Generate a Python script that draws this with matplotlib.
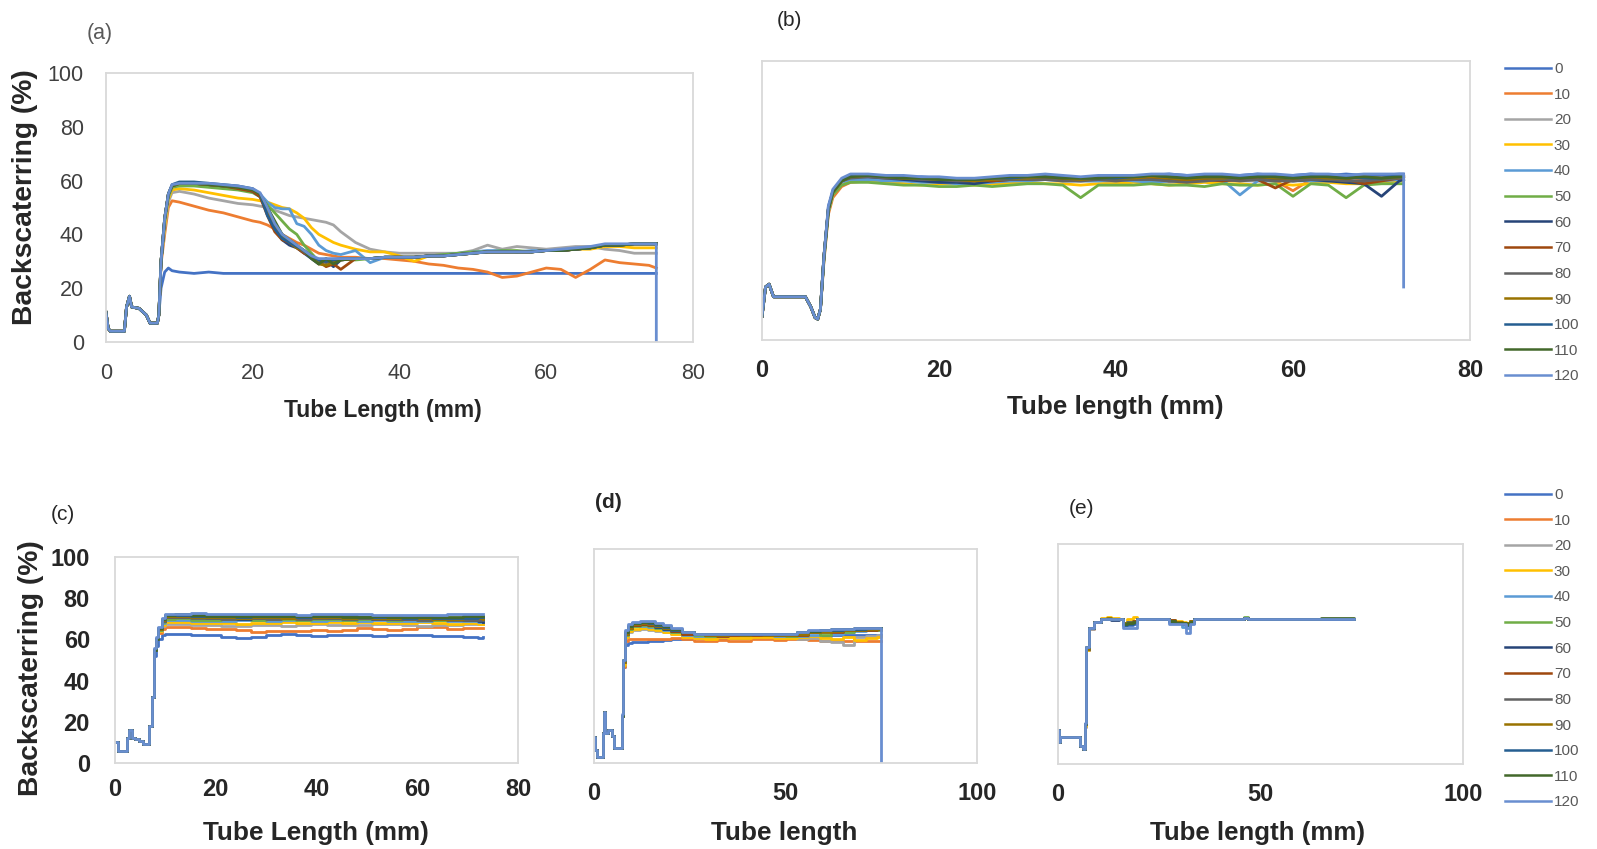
import matplotlib
matplotlib.use("Agg")
import matplotlib.pyplot as plt
from matplotlib.lines import Line2D

plt.rcParams['font.family'] = ['Liberation Sans', 'DejaVu Sans']
NARROW = ['Liberation Sans Narrow', 'Liberation Sans', 'DejaVu Sans']

labels = ['0', '10', '20', '30', '40', '50', '60', '70', '80', '90', '100', '110', '120']
colors = ['#4472C4', '#ED7D31', '#A5A5A5', '#FFC000', '#5B9BD5', '#70AD47', '#264478',
          '#9E480E', '#636363', '#997300', '#255E91', '#43682B', '#698ED0']

# ---------------- (a) ----------------
a_x0 = [0, 0.3, 0.6, 2.5, 2.8, 3.2, 3.5, 4.5, 5.5, 6.0, 7.0, 7.2]
a_y0 = [11, 5, 4, 4, 13, 17, 13, 12.5, 10, 7, 7, 10]
a_x = [7.5, 8, 8.5, 9, 10, 12, 14, 16, 18, 20, 21, 22, 23, 24, 25, 26, 27, 28, 29, 30,
       31, 32, 34, 36, 38, 40, 42, 44, 46, 48, 50, 52, 54, 56, 58, 60, 62, 64, 66, 68,
       70, 72, 74, 75, 75]
a_tail = [31.5, 31.5, 32, 32, 32.5, 33, 33.5, 33.5, 33.5, 33.5,
          34, 34, 34.5, 35, 36, 36, 36.5, 36.5, 36.5, 36.5]
a_y = [
    [20, 26, 27.5, 26.5, 26, 25.5, 26, 25.5, 25.5, 25.5,
     25.5, 25.5, 25.5, 25.5, 25.5, 25.5, 25.5, 25.5, 25.5, 25.5,
     25.5, 25.5, 25.5, 25.5, 25.5, 25.5, 25.5, 25.5, 25.5, 25.5,
     25.5, 25.5, 25.5, 25.5, 25.5, 25.5, 25.5, 25.5, 25.5, 25.5,
     25.5, 25.5, 25.5, 25.5, 25.5],
    [29, 40, 50, 52.5, 52, 50.5, 49, 48, 46.5, 45,
     44.5, 43.5, 42, 40, 38.5, 37, 36, 34.5, 33, 32.5,
     32, 31.5, 31.5, 31, 31, 30.5, 30, 29, 28.5, 27.5,
     27, 26, 24, 24.5, 26, 27.5, 27, 24, 27, 30.5,
     29.5, 29, 28.5, 27.5, 27.5],
    [30, 42, 52, 55.5, 56, 55, 53.5, 52.5, 51.5, 51,
     50.5, 50, 49, 48, 47, 46.5, 46, 45.5, 45, 44.5,
     43.5, 41, 37, 34.5, 33.5, 33, 33, 33, 33, 33,
     34, 36, 34.5, 35.5, 35, 34.5, 35, 35.5, 35.5, 34.5,
     34, 33, 33, 33, 33],
    [30, 43, 53, 56.5, 57, 56.5, 55.5, 54.5, 53.5, 53,
     52.5, 52, 51, 50, 49.5, 48, 46, 42.5, 40, 38.5,
     37, 36, 34.5, 33.5, 33.5, 32, 30, 32, 32.5, 32.5,
     33, 33.5, 33.5, 33.5, 33.5, 34, 34, 34.5, 34.5, 35.5,
     35.5, 35, 35, 35, 35],
    [30, 45, 54, 57.5, 58.5, 58.5, 58, 57.5, 57, 56,
     55, 52, 50, 49.5, 49.5, 44, 43, 40, 36, 34,
     33, 32.5, 34, 29.5, 31.5, 31.5, 31.5, 32, 32.5, 33,
     33.5, 34, 34, 33.5, 34, 34, 34, 34.5, 35, 36,
     36, 36.5, 36.5, 36.5, 36.5],
    [30, 45, 54, 57.5, 58, 58, 57.5, 57, 56.5, 55.5,
     54, 51, 48, 45, 42, 40, 36, 33, 30, 31,
     28.5, 31, 30.5, 31, 31.5, 31.5, 31.5, 32, 32.5, 33,
     33.5, 33.5, 34, 34, 33.5, 34, 34, 34.5, 35, 36,
     36, 36.5, 36.5, 36.5, 36.5],
    [30, 46, 55, 58, 59, 59, 58.5, 58, 57.5, 56,
     54, 48, 42, 38, 36, 35, 33, 31, 29, 30.5,
     28, 30.5, 31, 31, 31.5] + a_tail,
    [30, 46, 55, 58, 59, 59, 58.5, 58, 57, 56,
     54, 47, 41, 38, 37, 35, 33, 32, 30, 28,
     29, 27, 31, 31, 31.5] + a_tail,
    [30, 46, 55, 58, 59, 59, 58.5, 58, 57.5, 56.5,
     55, 50, 44, 40, 37, 35.5, 33.5, 31.5, 30, 29.5,
     30, 30.5, 31, 31, 31.5] + a_tail,
    [30, 46, 55, 58, 59, 59, 58.5, 58, 57.5, 56.5,
     55, 49, 43, 39, 37, 35, 34, 32, 29, 28.5,
     29.5, 30.5, 31, 31, 31.5] + a_tail,
    [30, 46, 55, 58.5, 59.5, 59.5, 59, 58.5, 58, 57,
     55, 47, 42, 38.5, 37, 35.5, 34, 32, 30.5, 30,
     30.5, 31, 31, 31, 31.5] + a_tail,
    [30, 46, 55, 58, 59, 59, 58.5, 58, 57.5, 56.5,
     55, 50, 45, 40, 38, 36, 34, 31, 29, 31,
     29, 30.5, 31, 31, 31.5] + a_tail,
    [30, 46, 55, 58.5, 59, 59, 59, 58.5, 58, 57,
     55.5, 50, 44, 40, 38, 36, 34, 32, 31, 31,
     31, 31, 31, 31, 31.5,
     31.5, 31.5, 32, 32, 32.5, 33, 33.5, 33.5, 33.5, 33.5,
     34, 34.5, 35, 35.5, 36.5, 36.5, 36.5, 36.5, 36.5, 0],
]

# ---------------- (b) ----------------
b_x0 = [0, 0.4, 0.8, 1.3, 4.9, 5.5, 6.0, 6.3, 6.6]
b_y0 = [8.5, 19, 20, 15.5, 15.5, 12, 8, 7.5, 11]
b_x = [7, 7.5, 8, 9, 10, 12, 14, 16, 18, 20, 22, 24, 26, 28, 30, 32, 34, 36, 38, 40,
       42, 44, 46, 48, 50, 52, 54, 56, 58, 60, 62, 64, 66, 68, 70, 72, 72.5, 72.5]
b_y = [
    [30, 48, 53, 57, 58.5, 59, 58.5, 58, 58.5, 58, 57.5, 57, 57.5, 58, 58.5, 59, 58.5, 58, 58.5,
     58, 58.5, 59, 59.5, 59, 59, 58.5, 59, 59.5, 59, 59, 59.5, 59, 59.5, 59, 59, 59.5, 59.5, 59.5],
    [28, 45, 51, 55, 56.5, 57, 57, 57, 57.5, 57, 57, 56.5, 57, 57, 57.5, 58, 57.5, 57, 57.5,
     57, 57.5, 58, 58, 57.5, 57.5, 57, 57.5, 58, 57, 53.5, 57.5, 57.5, 57, 57.5, 58, 58.5, 58.5, 58.5],
    [29, 46, 52, 56, 57.5, 58, 58, 57.5, 57.5, 57, 56.5, 56.5, 57, 56.5, 57, 57.5, 57.5, 57, 57,
     56.5, 57, 57.5, 56.5, 57, 57.5, 57.5, 57, 57, 57.5, 57, 57, 57.5, 57, 56.5, 57, 57.5, 57.5, 57.5],
    [29, 46, 52, 56, 57, 57, 56.5, 56, 55.5, 56, 56, 55.5, 56, 56, 56.5, 56, 56, 55.5, 56,
     56, 56.5, 56, 55.5, 56, 56.5, 56, 56, 55.5, 56, 55.5, 56, 56.5, 56, 56, 56.5, 57, 57, 57],
    [29, 46, 53, 56.5, 57.5, 57.5, 57, 57, 56.5, 56.5, 56, 56, 56.5, 57, 57, 57.5, 57, 57, 57,
     57.5, 57, 56.5, 57, 57, 57, 57.5, 52, 57, 57, 57.5, 57, 57, 57.5, 56.5, 57, 57.5, 57.5, 57.5],
    [29, 46, 52, 55.5, 56.5, 56.5, 56, 55.5, 55.5, 55, 55, 55.5, 55, 55.5, 56, 56, 55.5, 51, 55.5,
     55.5, 55.5, 56, 55.5, 55.5, 55, 56, 55.5, 55.5, 56, 51.5, 56, 55.5, 51, 55.5, 56, 56, 56, 56],
    [30, 47, 53, 57, 58.5, 58.5, 58, 57.5, 57, 56.5, 56.5, 56, 57, 57.5, 58, 58, 57.5, 57.5, 58,
     57.5, 58, 58, 57.5, 57, 57.5, 58, 57.5, 58, 57.5, 57, 57.5, 57, 56.5, 56, 51.5, 57, 57.5, 57.5],
    [30, 47, 53, 57, 58.5, 59, 58.5, 58, 58, 57.5, 57.5, 57.5, 57, 57.5, 57.5, 58, 57.5, 57.5, 58,
     57.5, 57.5, 58, 57, 57.5, 57.5, 57, 57.5, 57.5, 54.5, 57.5, 58, 57.5, 57.5, 56, 57, 58, 58.5, 58.5],
    [30, 47, 53, 57, 58, 58.5, 58, 58, 57.5, 57.5, 57, 57, 57.5, 57.5, 57.5, 57.5, 57, 57, 57.5,
     57, 57.5, 57.5, 57, 56.5, 57, 57.5, 57, 57.5, 57, 57, 57.5, 57.5, 57, 57, 57.5, 58, 58, 58],
    [30, 47, 53, 57, 58.5, 59, 58.5, 58, 58, 57.5, 57.5, 57, 57.5, 58, 58, 58.5, 58, 57.5, 58,
     58, 58, 58.5, 58, 57.5, 58, 58, 58.5, 58.5, 58, 58, 58.5, 58, 58, 58.5, 58, 58.5, 59, 59],
    [30, 47, 53.5, 57.5, 59, 59, 58.5, 58.5, 58, 58, 57.5, 57.5, 58, 58, 58.5, 58.5, 58.5, 58, 58,
     58, 58.5, 59, 58.5, 58.5, 58.5, 58.5, 58.5, 59, 58.5, 58.5, 59, 58.5, 58.5, 58, 58, 59, 59, 59],
    [30, 47, 53, 57, 58.5, 59, 58.5, 58, 58, 57.5, 57.5, 57.5, 58, 58.5, 58.5, 58.5, 58, 58, 58,
     58.5, 58.5, 59, 58.5, 58, 58.5, 58.5, 58, 58.5, 58.5, 58, 58.5, 58.5, 58, 58.5, 58, 58.5, 58.5, 58.5],
    [30, 48, 54, 58, 59.5, 59.5, 59, 59, 58.5, 58.5, 58, 58, 58.5, 59, 59, 59.5, 59, 58.5, 59,
     59, 59, 59.5, 59.5, 59, 59.5, 59.5, 59, 59.5, 59.5, 59, 59.5, 59.5, 59, 59.5, 59.5, 59.5, 59.5, 19],
]

# ---------------- (c) ----------------
c_x0 = [0, 0.6, 2.0, 2.3, 2.8, 3.3, 4.0, 4.8, 5.6, 6.3]
c_y0 = [10, 6, 6, 12, 16, 12, 11.5, 10.5, 9, 9]
c_x = [6.8, 7.3, 7.7, 8.1, 8.6, 9.3, 10, 12, 15, 18, 21, 24, 27, 30, 33, 36, 39, 42, 45, 48,
       51, 54, 57, 60, 63, 66, 69, 72, 73]
c_y = [
    [18, 32, 52, 57, 60, 62, 62.5, 62.5, 62, 62, 61, 60.5, 61, 62, 62.5, 62, 61.5, 62, 62, 62,
     61.5, 62, 62, 62, 61.5, 61.5, 61, 60.5, 61],
    [18, 32, 55, 60, 63, 65, 66, 66, 65.5, 65, 65, 64.5, 63.5, 64, 64, 64, 64.5, 64, 64.5, 65.5,
     65, 64.5, 65, 66, 66, 65, 65.5, 65.5, 65.5],
    [18, 32, 55, 60, 64, 66.5, 67.5, 67.5, 67, 67, 66.5, 66.5, 67, 67, 66.5, 67, 67.5, 67, 67, 67,
     67.5, 67.5, 67, 66.5, 67, 67, 67.5, 67.5, 67.5],
    [18, 32, 55, 60, 64, 67, 68.5, 68.5, 68, 68, 68, 67.5, 68, 68, 68.5, 68, 68, 68.5, 68, 68.5,
     68, 68, 68, 68.5, 68, 67.5, 68, 67.5, 67.5],
    [18, 32, 55, 60, 64.5, 68, 69.5, 69.5, 69, 69, 69, 69.5, 69.5, 69, 69.5, 69.5, 69, 69.5, 69.5, 69,
     69.5, 69, 69, 69, 69.5, 69, 69, 68.5, 69],
    [18, 32, 55, 60, 64.5, 68.5, 70, 70.5, 69.5, 69.5, 70, 70, 69.5, 70, 70, 69.5, 70, 70, 69.5, 70,
     70, 69.5, 70, 69.5, 69.5, 70, 70, 70.5, 70],
    [18, 32, 55, 60, 65, 69, 71, 71, 71, 70.5, 70.5, 70, 70.5, 70.5, 70.5, 71, 71, 70.5, 70.5, 70.5,
     70, 70, 70.5, 70.5, 70, 70, 69.5, 69, 68.5],
    [18, 32, 55, 60, 65, 69, 71, 71, 71.5, 71, 71, 71, 70.5, 71, 71, 70.5, 70.5, 71, 71, 70.5,
     71, 70.5, 70, 70.5, 70, 70.5, 70, 70, 70],
    [18, 32, 55, 60, 65, 69, 71, 71, 70.5, 70.5, 70, 70.5, 70.5, 70, 70.5, 70, 70.5, 70.5, 70, 70.5,
     70, 70, 70, 69.5, 70, 69.5, 69.5, 69.5, 69.5],
    [18, 32, 55, 60, 65, 69.5, 71.5, 71.5, 71, 71, 71, 70.5, 71, 71, 70.5, 71, 71, 71, 70.5, 71,
     70.5, 70.5, 70.5, 70.5, 70, 70, 70.5, 70.5, 70],
    [18, 32, 55, 60, 65.5, 70, 72, 72, 71.5, 71.5, 71.5, 71, 71.5, 71.5, 71.5, 71, 71.5, 71.5, 71.5, 71,
     71, 71, 70.5, 71, 70.5, 70.5, 70.5, 71, 71],
    [18, 32, 55, 60, 65.5, 70, 72, 72.5, 72, 71.5, 71.5, 71.5, 71.5, 71.5, 71.5, 71.5, 71.5, 71.5, 71, 71,
     71.5, 71, 71, 71, 71, 71, 71.5, 71.5, 71.5],
    [18, 32, 56, 61, 66, 70.5, 72.5, 72.5, 73, 72.5, 72.5, 72.5, 72.5, 72.5, 72.5, 72, 72.5, 72.5, 72.5, 72.5,
     72, 72, 72, 72, 72, 72.5, 72.5, 72.5, 72.5],
]

# ---------------- (d) ----------------
d_x0 = [0, 0.3, 0.7, 2.0, 2.4, 2.7, 3.0, 3.7, 4.6, 5.1, 6.8]
d_y0 = [12, 6, 3, 3, 14, 24, 14, 15.5, 12.5, 7, 7]
d_x = [7.2, 7.5, 8, 9, 10, 12, 14, 16, 18, 20, 23, 26, 29, 32, 35, 38, 41, 44, 47, 50,
       53, 56, 59, 62, 65, 68, 71, 74, 75, 75]
d_y = [
    [22, 45, 55, 56, 56.5, 56.5, 57, 57, 57.5, 58, 58, 58.5, 58.5, 58.5, 58.5,
     58.5, 59, 59, 59, 59, 59, 59.5, 59.5, 60, 60, 60, 60, 60, 60, 60],
    [22, 45, 57, 58, 58, 58, 58, 58, 58, 58.5, 58, 57, 57, 57.5, 57,
     57, 58, 58, 57.5, 58, 58, 57.5, 57, 57, 57, 57, 57, 57, 57, 57],
    [22, 46, 59, 61, 62, 62.5, 62, 61.5, 61, 60.5, 59.5, 58.5, 59, 59, 59.5,
     59, 59.5, 59.5, 59.5, 59, 58, 58.5, 57, 56.5, 55, 59, 59.5, 60, 60, 60],
    [22, 46, 59, 61.5, 62.5, 63, 62.5, 62, 61, 60.5, 59, 58.5, 58, 59, 58.5,
     58.5, 59, 59, 58.5, 58.5, 59, 59.5, 58.5, 58, 59, 57.5, 58.5, 59, 59.5, 59.5],
    [22, 47, 60, 62.5, 64, 64, 63.5, 63, 62, 61, 60, 59.5, 59.5, 59.5, 60,
     60, 60, 60, 59.5, 59.5, 59.5, 60, 61, 60.5, 61, 61.5, 62, 62, 62, 62],
    [22, 47, 60, 62.5, 64, 64.5, 64, 63, 62.5, 61, 60.5, 60, 59.5, 60.5, 60,
     60, 60, 60, 60, 59.5, 60, 61, 60, 61.5, 61, 62, 62, 62, 62, 62],
    [22, 47, 60.5, 63, 64.5, 65, 64.5, 63.5, 62.5, 61.5, 60.5, 60.5, 60, 60, 60.5,
     60, 60.5, 60.5, 60, 60, 60.5, 61, 61.5, 61.5, 62, 62, 62.5, 62.5, 62.5, 62.5],
    [22, 47, 60.5, 63, 64.5, 65, 64.5, 64, 63, 61.5, 60.5, 60.5, 60, 59.5, 60,
     60.5, 60, 60, 60.5, 60, 60, 61, 61.5, 61, 62, 62.5, 62, 62.5, 62.5, 62.5],
    [22, 47, 60.5, 63, 65, 65.5, 65, 64, 63, 62, 61, 60.5, 60.5, 60.5, 60.5,
     60.5, 60.5, 60.5, 60.5, 60.5, 60.5, 61.5, 61.5, 62, 62, 62.5, 62.5, 62.5, 62.5, 62.5],
    [22, 47, 60.5, 63, 65, 65.5, 65, 64, 63, 62, 61, 60.5, 60, 60, 60.5,
     60, 60.5, 60, 60, 60, 60.5, 61, 61, 61.5, 62, 62, 62.5, 62.5, 62.5, 62.5],
    [22, 48, 61, 64, 65.5, 66, 65.5, 64.5, 63.5, 62, 61, 60.5, 60.5, 60.5, 60.5,
     60.5, 60.5, 60.5, 60.5, 60.5, 61, 61.5, 62, 62, 62.5, 62.5, 63, 63, 63, 63],
    [22, 48, 61, 64, 65.5, 66, 66, 65, 64, 62.5, 61, 60.5, 60.5, 60.5, 60.5,
     60.5, 60.5, 60.5, 60.5, 60.5, 61, 61.5, 62, 62.5, 62.5, 63, 63, 63, 63, 63],
    [23, 48, 62, 65, 66, 66.5, 66.5, 65.5, 64.5, 63, 61, 60.5, 60.5, 60.5, 60.5,
     60.5, 60.5, 60.5, 60.5, 60.5, 61, 62, 62, 62.5, 62.5, 63, 63, 63, 63, 0],
]

# ---------------- (e) ----------------
e_x0 = [0, 0.25, 0.5, 1.0, 5.0, 5.4, 6.2]
e_y0 = [15.5, 10, 12.5, 12.5, 12.5, 8, 7]
e_x = [6.6, 7.0, 7.7, 9, 10.7, 12, 13, 15, 16, 17, 18.5, 19.5, 22, 25, 27.5, 29, 30.5, 31.5,
       32.5, 33.5, 36, 40, 46, 47, 55, 65, 73]
e_y = [
    [18, 52, 62, 64.5, 66, 66, 66, 66, 63, 63, 63.5, 66, 66, 66, 64.5, 64, 64, 63, 64.5, 66,
     66, 66, 66.3, 65.8, 65.8, 65.8, 65.8],
    [17, 52, 61.5, 64.5, 66, 66.5, 66, 66, 63.5, 64, 64, 66, 66, 66, 65, 64.5, 64, 63.5, 64.5, 66,
     66, 66, 66.3, 65.8, 65.8, 66, 65.8],
    [17, 52, 61.5, 64.5, 66, 66, 66, 66, 64, 64.5, 64, 66, 66, 66, 65, 64.5, 64, 64, 65, 66,
     66, 66, 66.5, 65.8, 65.8, 65.8, 65.8],
    [17.5, 52, 62, 64.5, 66.3, 66.8, 66.3, 66, 64, 66, 66.8, 66, 66, 66, 65.5, 65, 64.5, 64, 65, 66,
     66, 66, 66.3, 65.8, 65.8, 65.8, 65.8],
    [18, 52.5, 62, 64.5, 66, 66, 66, 66, 63.5, 64, 64, 66, 66, 66, 65, 64, 62.5, 62, 64, 66,
     66, 66, 66.3, 65.8, 65.8, 65.8, 65.8],
    [18, 52.5, 62, 64.5, 66, 66.3, 66, 66, 64, 64.5, 65, 66, 66, 66, 65.5, 64.5, 64, 63.5, 64.5, 66,
     66, 66, 66.8, 65.8, 65.8, 65.8, 66],
    [18, 52.5, 62, 64.5, 66, 66, 65.5, 66, 63.5, 64, 64.5, 66, 66, 66, 65, 64, 63.5, 63.5, 64.5, 66,
     66, 66, 66.3, 65.8, 65.8, 65.8, 65.8],
    [18, 52.5, 62, 64.5, 66, 66, 66, 66, 64, 64, 65, 66, 66, 66, 65.5, 64.5, 64, 64, 65, 66,
     66, 66, 66.3, 65.8, 65.8, 65.8, 65.8],
    [18, 52.5, 62, 64.5, 66, 66, 66, 66, 64, 64.5, 64.5, 66, 66, 66, 65, 64, 64, 63.5, 64.5, 66,
     66, 66, 66.3, 65.8, 65.8, 65.8, 65.8],
    [18, 52.5, 62, 64.5, 66, 66.5, 66, 66, 64, 64, 64.5, 66, 66, 66, 65, 64.5, 64, 64, 65, 66,
     66, 66, 66.3, 65.8, 65.8, 65.8, 65.8],
    [18, 53, 62, 64.5, 66, 66, 66, 66, 63, 63.5, 64, 66, 66, 66, 64.5, 64, 63.5, 63, 64, 66,
     66, 66, 66.3, 65.8, 65.8, 65.8, 65.8],
    [18, 53, 62, 64.5, 66, 66, 66, 66, 63.5, 64, 64.5, 66, 66, 66, 65, 64, 64, 63.5, 64.5, 66,
     66, 66, 66.3, 65.8, 65.8, 66.2, 66],
    [18.5, 53, 62, 64.5, 66, 66, 66, 66, 62, 62, 62, 66, 66, 66, 63.5, 63.5, 63.5, 59.5, 63.5, 66,
     66, 66, 66.3, 65.7, 65.7, 65.7, 65.7],
]

W, H = 1597, 849
fig = plt.figure(figsize=(W / 100, H / 100), dpi=100)


def rect(l, t, r, b):
    return [l / W, 1 - b / H, (r - l) / W, (b - t) / H]


def panel(box, x0, y0, xs, ys, xmax, xticks, steps, yticks, tick_kw):
    ax = fig.add_axes(rect(*box))
    ds = 'steps-post' if steps else 'default'
    for y, c in zip(ys, colors):
        ax.plot(x0 + xs, y0 + y, color=c, lw=2.0, drawstyle=ds)
    ax.set_xlim(0, xmax)
    ax.set_ylim(0, 100)
    ax.set_xticks(xticks)
    if yticks:
        ax.set_yticks([0, 20, 40, 60, 80, 100])
    else:
        ax.set_yticks([])
    for s in ax.spines.values():
        s.set_color('#D9D9D9')
        s.set_linewidth(1.3)
    ax.tick_params(axis='x', length=0, pad=tick_kw['xpad'])
    ax.tick_params(axis='y', length=0, pad=tick_kw['ypad'])
    for t in ax.get_xticklabels() + ax.get_yticklabels():
        t.set_fontsize(tick_kw['size'])
        t.set_fontweight(tick_kw['weight'])
        t.set_color(tick_kw['color'])
        t.set_family(tick_kw['family'])
    return ax


SANS = ['Liberation Sans', 'DejaVu Sans']
light = dict(size=15.5, weight='normal', color='#404040', family=NARROW, xpad=15, ypad=16)
bnarrow = dict(size=17, weight='bold', color='#262626', family=SANS, xpad=14, ypad=12)
bold_c = dict(size=17, weight='bold', color='#262626', family=SANS, xpad=11, ypad=18)
bold_de = dict(size=17, weight='bold', color='#262626', family=SANS, xpad=14, ypad=12)

panel((106, 73, 693, 342), a_x0, a_y0, a_x, a_y, 80, [0, 20, 40, 60, 80], False, True, light)
panel((762, 61, 1470, 340), b_x0, b_y0, b_x, b_y, 80, [0, 20, 40, 60, 80], False, False, bnarrow)
panel((115, 557, 518, 763), c_x0, c_y0, c_x, c_y, 80, [0, 20, 40, 60, 80], True, True, bold_c)
panel((594, 549, 977, 763), d_x0, d_y0, d_x, d_y, 100, [0, 50, 100], True, False, bold_de)
panel((1058, 544, 1463, 764), e_x0, e_y0, e_x, e_y, 100, [0, 50, 100], True, False, bold_de)


def ftext(x, y, s, **kw):
    fig.text(x / W, 1 - y / H, s, ha='center', va='center', **kw)


lab = dict(fontweight='bold', color='#262626')
ftext(383, 410, 'Tube Length (mm)', fontsize=16.5, **lab)
ftext(1115, 407, 'Tube length (mm)', fontsize=18.7, **lab)
ftext(316, 833, 'Tube Length (mm)', fontsize=18.8, **lab)
ftext(784, 833, 'Tube length', fontsize=18.8, **lab)
ftext(1258, 833, 'Tube length (mm)', fontsize=18.6, **lab)
ftext(25, 197, 'Backscaterring (%)', fontsize=20.3, rotation=90, **lab)
ftext(31, 668, 'Backscaterring (%)', fontsize=20.3, rotation=90, **lab)

ftext(100, 33, '(a)', fontsize=15.5, color='#595959', family=NARROW)
ftext(789, 20, '(b)', fontsize=15, color='#262626', family=NARROW)
ftext(63, 514, '(c)', fontsize=15, color='#262626')
ftext(608, 503, '(d)', fontsize=15, color='#262626', fontweight='bold')
ftext(1082, 508, '(e)', fontsize=15, color='#262626')

handles = [Line2D([], [], color=c, lw=1.8) for c in colors]
for top in (62, 488):
    fig.legend(handles, labels, loc='upper left', bbox_to_anchor=(1505 / W, 1 - top / H),
               frameon=False, prop={'family': NARROW, 'size': 11}, labelcolor='#595959',
               handlelength=3.0, handletextpad=0.2, labelspacing=0.76,
               borderpad=0, borderaxespad=0)

fig.savefig('out.png', dpi=100)
